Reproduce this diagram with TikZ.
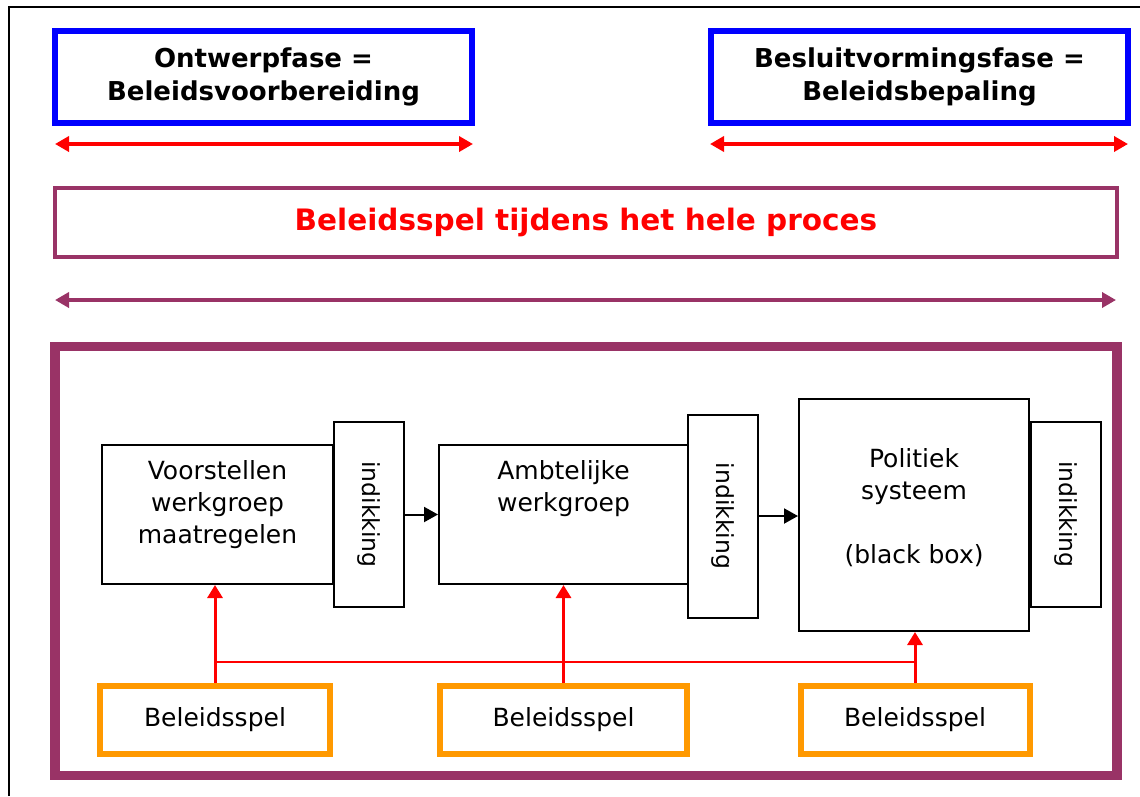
\documentclass[tikz,border=0pt]{standalone}
\usepackage{fontspec}
\setmainfont{DejaVu Sans}
\usetikzlibrary{arrows.meta}
\definecolor{plum}{RGB}{153,51,102}
\definecolor{amber}{RGB}{255,153,0}

\tikzset{
  phasebox/.style={draw=blue, line width=6pt, inner sep=0pt, align=center,
    font=\bfseries\fontsize{26}{33}\selectfont},
  span/.style={draw=red, line width=3.5pt,
    {Triangle[length=14pt,width=15pt]}-{Triangle[length=14pt,width=15pt]}},
  wholespan/.style={draw=plum, line width=4pt,
    {Triangle[length=14pt,width=15pt]}-{Triangle[length=14pt,width=15pt]}},
  stagebox/.style={draw=black, line width=2pt, inner sep=0pt},
  indbox/.style={stagebox, rotate=-90, minimum width=#1, minimum height=70pt,
    font=\fontsize{23.5}{28}\selectfont},
  stagetext/.style={align=center, inner sep=0pt, font=\fontsize{25}{32}\selectfont},
  spelbox/.style={draw=amber, line width=6pt, inner sep=0pt, minimum height=68pt,
    font=\fontsize{25}{32}\selectfont},
  flow/.style={draw=black, line width=2pt, -{Triangle[length=14pt,width=15pt]}},
  influence/.style={draw=red, line width=3pt, -{Triangle[length=13pt,width=15pt]}},
}

\begin{document}
\begin{tikzpicture}[x=1pt,y=-1pt]
\useasboundingbox (0,0) rectangle (1140,796);

% page frame (left and top edges)
\draw[line width=2pt] (9,796) -- (9,6.5) -- (1140,6.5);

% the two phases
\node[phasebox, minimum width=417pt, minimum height=92pt] (ph1) at (263.5,77)
  {Ontwerpfase =\\Beleidsvoorbereiding};
\node[phasebox, minimum width=417pt, minimum height=92pt] (ph2) at (919.5,77)
  {Besluitvormingsfase =\\Beleidsbepaling};

\coordinate (s1l) at (55,144);  \coordinate (s1r) at (473,144);
\coordinate (s2l) at (710,144); \coordinate (s2r) at (1128,144);
\draw[span] (s1l) -- (s1r);
\draw[span] (s2l) -- (s2r);

% policy game over the whole process
\node[draw=plum, line width=3.5pt, inner sep=0pt, minimum width=1062pt,
  minimum height=69pt, text=red, font=\bfseries\fontsize{29.5}{34}\selectfont]
  (proc) at (586,222.5) {Beleidsspel tijdens het hele proces};

\coordinate (wl) at (55,300); \coordinate (wr) at (1116,300);
\draw[wholespan] (wl) -- (wr);

% process frame
\node[draw=plum, line width=9.5pt, inner sep=0pt, minimum width=1062pt,
  minimum height=429pt] (frame) at (586,561) {};

% stages
\node[stagebox, minimum width=231pt, minimum height=139pt] (vA) at (217.5,514.5) {};
\node[stagetext] (vAt) at (217.5,505) {Voorstellen\\werkgroep\\maatregelen};
\node[indbox=185pt] (ik1) at (369,514.5) {indikking};

\node[stagebox, minimum width=249pt, minimum height=139pt] (vB) at (563.5,514.5) {};
\node[stagetext] (vBt) at (563.5,489) {Ambtelijke\\werkgroep};
\node[indbox=203pt] (ik2) at (722.5,516) {indikking};

\node[stagebox, minimum width=230pt, minimum height=232pt] (vC) at (914,515) {};
\node[stagetext] (vCt) at (914,508) {Politiek\\systeem\\[32pt](black box)};
\node[indbox=185pt] (ik3) at (1066,514.5) {indikking};

% rotated boxes: their north anchor is the right-hand side
\draw[flow] (ik1.north) -- (ik1.north -| vB.west);
\draw[flow] (ik2.north) -- (ik2.north -| vC.west);

% local policy games
\node[spelbox, minimum width=230pt] (bs1) at (215,720) {Beleidsspel};
\node[spelbox, minimum width=247pt] (bs2) at (563.5,720) {Beleidsspel};
\node[spelbox, minimum width=229pt] (bs3) at (915,720) {Beleidsspel};

\draw[influence] (bs1.north) -- (bs1.north |- vA.south);
\draw[influence] (bs2.north) -- (bs2.north |- vB.south);
\draw[influence] (bs3.north) -- (bs3.north |- vC.south);

\coordinate (link) at (0,662);
\draw[red, line width=2.5pt] (bs1.north |- link) -- (bs3.north |- link);
\end{tikzpicture}
\end{document}
